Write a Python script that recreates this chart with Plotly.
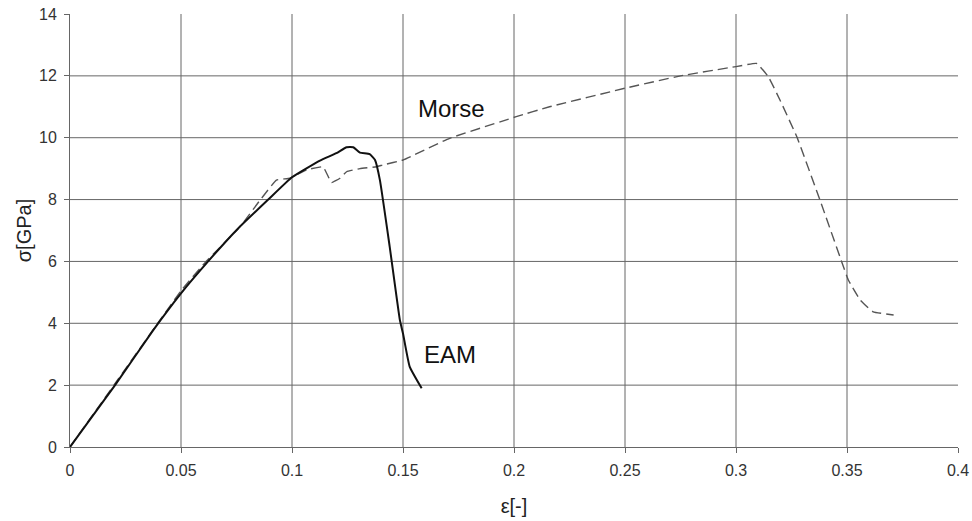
import plotly.graph_objects as go

# EAM (solid)
eam_strain = [0.0, 0.0203, 0.0375, 0.05, 0.0623, 0.0755, 0.0893, 0.1, 0.1126, 0.120, 0.1246,
              0.1276, 0.1306, 0.135, 0.1374, 0.1396, 0.144, 0.1486, 0.150, 0.153, 0.1584]
eam_stress = [0.0, 2.0, 3.78, 4.97, 6.01, 7.05, 8.0, 8.72, 9.26, 9.5, 9.69,
              9.69, 9.52, 9.47, 9.28, 8.63, 6.48, 4.1, 3.67, 2.6, 1.9]

# Morse (dashed)
morse_strain = [0.0, 0.02, 0.04, 0.05, 0.0613, 0.0766, 0.0856, 0.093, 0.099, 0.1066, 0.114, 0.1156,
                0.1178, 0.1216, 0.1246, 0.1306, 0.138, 0.141, 0.150, 0.171, 0.201, 0.216, 0.25,
                0.275, 0.30, 0.3093, 0.3146, 0.3198, 0.3274, 0.3378, 0.3476, 0.3506,
                0.356, 0.3618, 0.371]
morse_stress = [0.0, 2.02, 4.05, 5.05, 6.0, 7.12, 7.98, 8.63, 8.69, 8.96, 9.06, 8.85,
                8.55, 8.69, 8.9, 9.0, 9.06, 9.12, 9.28, 9.98, 10.68, 11.0, 11.6,
                12.0, 12.3, 12.4, 11.97, 11.22, 10.03, 7.99, 5.99, 5.4,
                4.75, 4.37, 4.27]

x_ticks = [0, 0.05, 0.1, 0.15, 0.2, 0.25, 0.3, 0.35, 0.4]
x_tick_labels = ["0", "0.05", "0.1", "0.15", "0.2", "0.25", "0.3", "0.35", "0.4"]
y_ticks = [0, 2, 4, 6, 8, 10, 12, 14]

fig = go.Figure()
fig.add_trace(go.Scatter(x=morse_strain, y=morse_stress, mode="lines",
                         line=dict(color="#555555", width=1.4, dash="10px,5px",
                                   shape="spline", smoothing=0.3),
                         showlegend=False))
fig.add_trace(go.Scatter(x=eam_strain, y=eam_stress, mode="lines",
                         line=dict(color="#111111", width=2, shape="spline", smoothing=0.4),
                         showlegend=False))

fig.add_annotation(x=0.172, y=10.93, text="Morse", showarrow=False,
                   font=dict(size=24, color="#111111", family="Liberation Sans"))
fig.add_annotation(x=0.171, y=3.0, text="EAM", showarrow=False,
                   font=dict(size=24, color="#111111", family="Liberation Sans"))

# gridlines drawn as shapes to avoid lines at the borders
for xv in x_ticks[1:-1]:
    fig.add_shape(type="line", x0=xv, x1=xv, y0=0, y1=14, xref="x", yref="y",
                  line=dict(color="#666666", width=1), layer="below")
for yv in y_ticks[1:-1]:
    fig.add_shape(type="line", x0=0, x1=0.4, y0=yv, y1=yv, xref="x", yref="y",
                  line=dict(color="#666666", width=1), layer="below")

fig.update_layout(
    width=972, height=521,
    margin=dict(l=70, r=14, t=14, b=74),
    plot_bgcolor="white", paper_bgcolor="white",
    font=dict(family="Liberation Sans", color="#333333"),
    xaxis=dict(range=[0, 0.4], tickvals=x_ticks, ticktext=x_tick_labels, automargin=False,
               showgrid=False, zeroline=False, showline=True, linecolor="#666666",
               linewidth=1, ticks="outside", ticklen=5, tickcolor="#666666",
               ticklabelstandoff=4,
               tickfont=dict(size=16, color="#333333"),
               title=dict(text="ε[-]", font=dict(size=20, color="#222222"), standoff=20)),
    yaxis=dict(range=[0, 14], tickvals=y_ticks, automargin=False,
               showgrid=False, zeroline=False, showline=True, linecolor="#666666",
               linewidth=1, ticks="outside", ticklen=5, tickcolor="#666666",
               ticklabelstandoff=4,
               tickfont=dict(size=16, color="#333333"),
               title=dict(text="σ[GPa]", font=dict(size=20, color="#222222"), standoff=2)),
)

fig.write_html("out.html", config={"displayModeBar": False},
               post_script="document.body.style.margin='0';document.body.style.overflow='hidden';")
